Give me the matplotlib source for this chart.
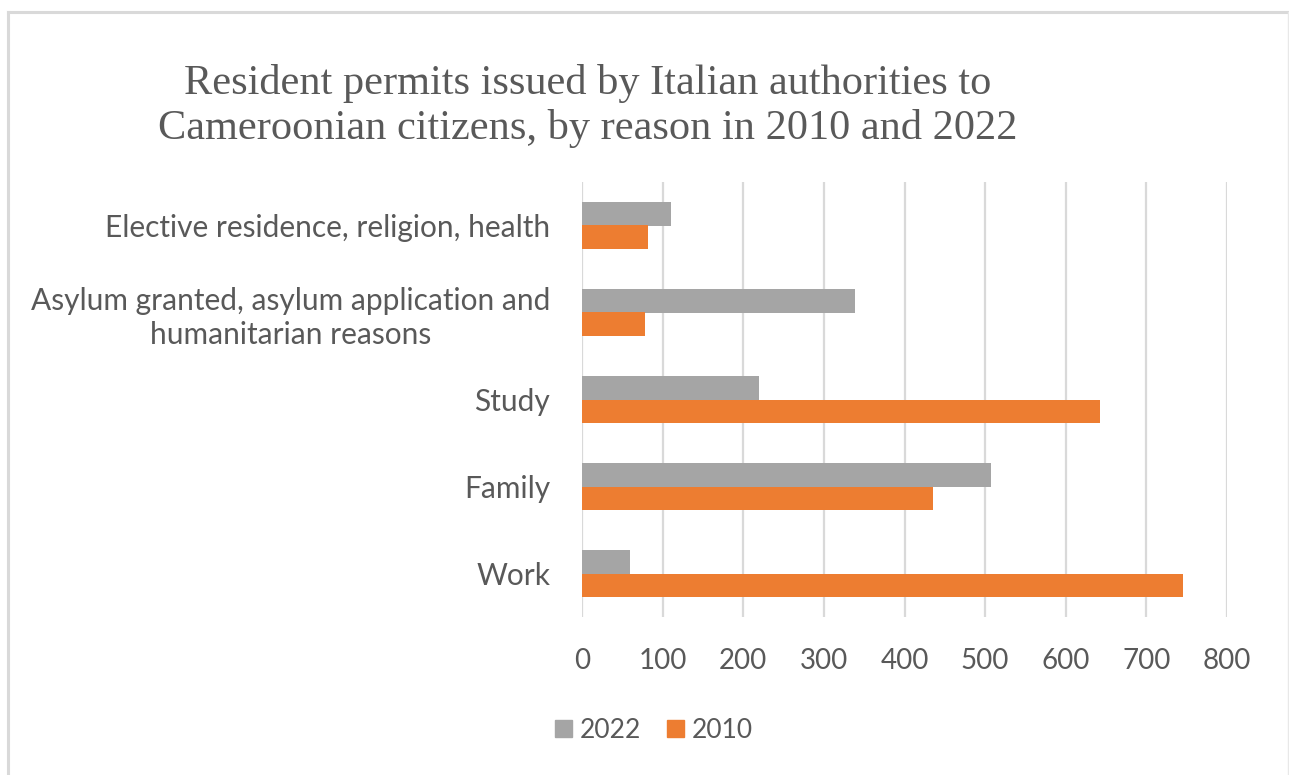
import matplotlib
matplotlib.use('Agg')
import matplotlib.pyplot as plt
from matplotlib.patches import Patch
from matplotlib.lines import Line2D
import numpy as np

# ===== data =====
categories = ['Work', 'Family', 'Study',
              'Asylum granted, asylum application and\nhumanitarian reasons',
              'Elective residence, religion, health']
vals_2022 = [59, 507, 219, 338, 110]
vals_2010 = [745, 435, 643, 78, 82]
x_ticks = [0, 100, 200, 300, 400, 500, 600, 700, 800]

GRAY = '#A5A5A5'; ORANGE = '#ED7D31'; TXT = '#595959'; GRID = '#D9D9D9'
W, H = 1289, 775

fig = plt.figure(figsize=(W/100, H/100), dpi=100)
ax = fig.add_axes([582/W, 1-617/H, (1227-582)/W, (617-182)/H])

y = np.arange(len(categories))
h = 0.265
ax.barh(y + h/2, vals_2022, height=h, color=GRAY, label='2022', zorder=3)
ax.barh(y - h/2, vals_2010, height=h, color=ORANGE, label='2010', zorder=3)

ax.set_xlim(0, 800)
ax.set_ylim(-0.5, len(categories) - 0.5)
ax.set_xticks(x_ticks)
ax.set_yticks(y)
ax.set_yticklabels(categories, multialignment='center', linespacing=1.25)
ax.grid(axis='x', color=GRID, linewidth=1.6, zorder=0)
for s in ax.spines.values():
    s.set_visible(False)
ax.tick_params(axis='both', length=0, labelcolor=TXT)
ax.tick_params(axis='y', pad=23, labelsize=21.5)
ax.tick_params(axis='x', pad=22, labelsize=20)
for lab in ax.get_xticklabels() + ax.get_yticklabels():
    lab.set_fontfamily('Lato')

fig.text(588/W, 1-106/H,
         'Resident permits issued by Italian authorities to\nCameroonian citizens, by reason in 2010 and 2022',
         ha='center', va='center', fontsize=30.5, color=TXT,
         family='Liberation Serif', linespacing=1.22)

handles = [Patch(color=GRAY, label='2022'), Patch(color=ORANGE, label='2010')]
fig.legend(handles=handles, loc='center', bbox_to_anchor=(654/W, 1-730/H), ncol=2,
           frameon=False, prop={'family': 'Lato', 'size': 19}, labelcolor=TXT,
           handlelength=0.62, handleheight=0.62, handletextpad=0.3, columnspacing=1.0)

# chart border
fig.add_artist(Line2D([7.5/W, 1287.5/W], [1-11.5/H, 1-11.5/H], color=GRID, linewidth=2.2, transform=fig.transFigure))
fig.add_artist(Line2D([7.5/W, 7.5/W], [0, 1-11.5/H], color=GRID, linewidth=2.2, transform=fig.transFigure))
fig.add_artist(Line2D([1287.5/W, 1287.5/W], [0, 1-11.5/H], color='#E8E8E8', linewidth=1, transform=fig.transFigure))

plt.savefig('out.png', dpi=100)
